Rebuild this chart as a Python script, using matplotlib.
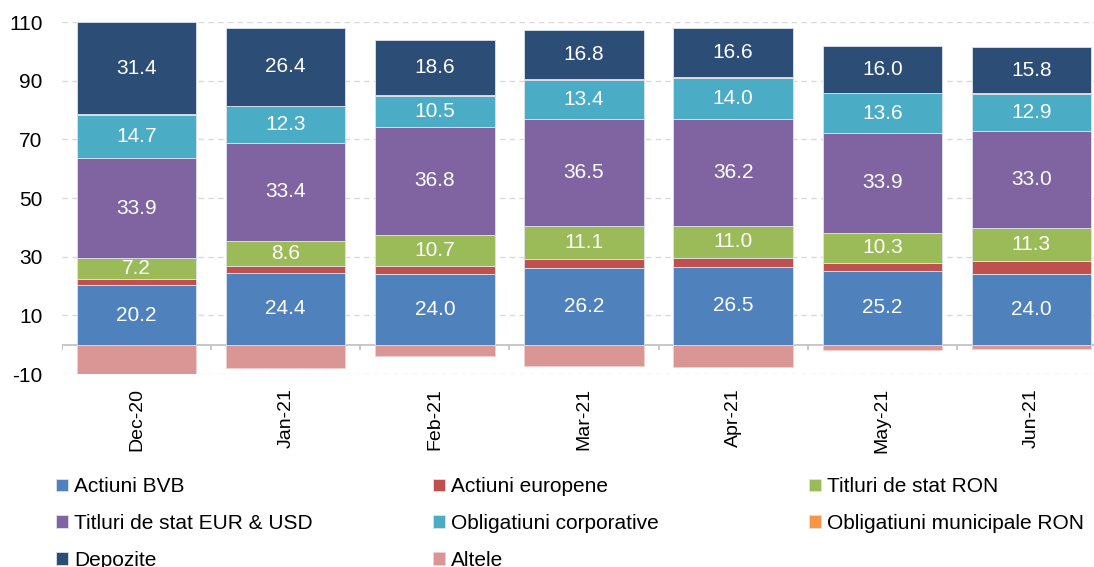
import matplotlib.pyplot as plt
import numpy as np

plt.rcParams['font.family'] = ['Liberation Sans', 'DejaVu Sans']
plt.rcParams['axes.unicode_minus'] = False

months = ['Dec-20', 'Jan-21', 'Feb-21', 'Mar-21', 'Apr-21', 'May-21', 'Jun-21']

actiuni_bvb = [20.2, 24.4, 24.0, 26.2, 26.5, 25.2, 24.0]
actiuni_europene = [2.2, 2.5, 2.8, 3.0, 3.1, 2.7, 4.4]
titluri_ron = [7.2, 8.6, 10.7, 11.1, 11.0, 10.3, 11.3]
titluri_eur_usd = [33.9, 33.4, 36.8, 36.5, 36.2, 33.9, 33.0]
oblig_corporative = [14.7, 12.3, 10.5, 13.4, 14.0, 13.6, 12.9]
oblig_municipale = [0.4, 0.3, 0.4, 0.2, 0.4, 0.1, 0.1]
depozite = [31.4, 26.4, 18.6, 16.8, 16.6, 16.0, 15.8]
altele = [-10.0, -8.0, -3.9, -7.3, -7.5, -1.9, -1.5]

series = [
    ('Actiuni BVB', actiuni_bvb, '#4F81BD', True),
    ('Actiuni europene', actiuni_europene, '#C0504D', False),
    ('Titluri de stat RON', titluri_ron, '#9BBB59', True),
    ('Titluri de stat EUR & USD', titluri_eur_usd, '#8064A2', True),
    ('Obligatiuni corporative', oblig_corporative, '#4BACC6', True),
    ('Obligatiuni municipale RON', oblig_municipale, '#F79646', False),
    ('Depozite', depozite, '#2C4D75', True),
]

fig = plt.figure(figsize=(10.94, 5.67), dpi=100)
ax = fig.add_axes([62 / 1094, 193 / 567, 1044 / 1094, 352 / 567])

x = np.arange(len(months))
width = 0.80
bottom = np.zeros(len(months))
handles = {}
for name, vals, color, show in series:
    vals = np.array(vals)
    bars = ax.bar(x, vals, width, bottom=bottom, color=color,
                  edgecolor='#DCE3EC', linewidth=0.6, zorder=3)
    handles[name] = bars
    if show:
        for xi, b, v in zip(x, bottom, vals):
            ax.text(xi, b + v / 2, f'{v:.1f}', ha='center', va='center',
                    color='white', fontsize=15, zorder=4)
    bottom += vals

handles['Altele'] = ax.bar(x, altele, width, color='#D99694',
                           edgecolor='#F0D0D0', linewidth=0.6, zorder=3)

ax.set_ylim(-10, 110)
ax.set_xlim(-0.5, len(months) - 0.5)
ax.set_yticks(np.arange(-10, 111, 20))
ax.yaxis.grid(True, color='#D9D9D9', linestyle=(0, (4, 3)), linewidth=1, zorder=0)
ax.tick_params(axis='y', length=0, labelsize=15, pad=14)
ax.set_xticks(x)
ax.set_xticklabels(months, rotation=90, fontsize=14)
ax.tick_params(axis='x', length=0, pad=10)
for s in ax.spines.values():
    s.set_visible(False)

# zero line with small boundary ticks
ax.axhline(0, color='#BFBFBF', linewidth=1.2, zorder=2)
ax.vlines(np.arange(len(months) + 1) - 0.5, -1.7, 0, color='#BFBFBF',
          linewidth=1.2, zorder=2)

columns = [
    (['Actiuni BVB', 'Titluri de stat EUR & USD', 'Depozite'], 46),
    (['Actiuni europene', 'Obligatiuni corporative', 'Altele'], 423),
    (['Titluri de stat RON', 'Obligatiuni municipale RON'], 799),
]
for names, px in columns:
    fig.legend([handles[n] for n in names], names, loc='upper left',
               bbox_to_anchor=(px / 1094, 1 - 467 / 567), frameon=False,
               fontsize=15, handlelength=0.55, handleheight=0.55,
               handletextpad=0.3, labelspacing=0.85, borderpad=0)

fig.savefig('out.png', dpi=100)
